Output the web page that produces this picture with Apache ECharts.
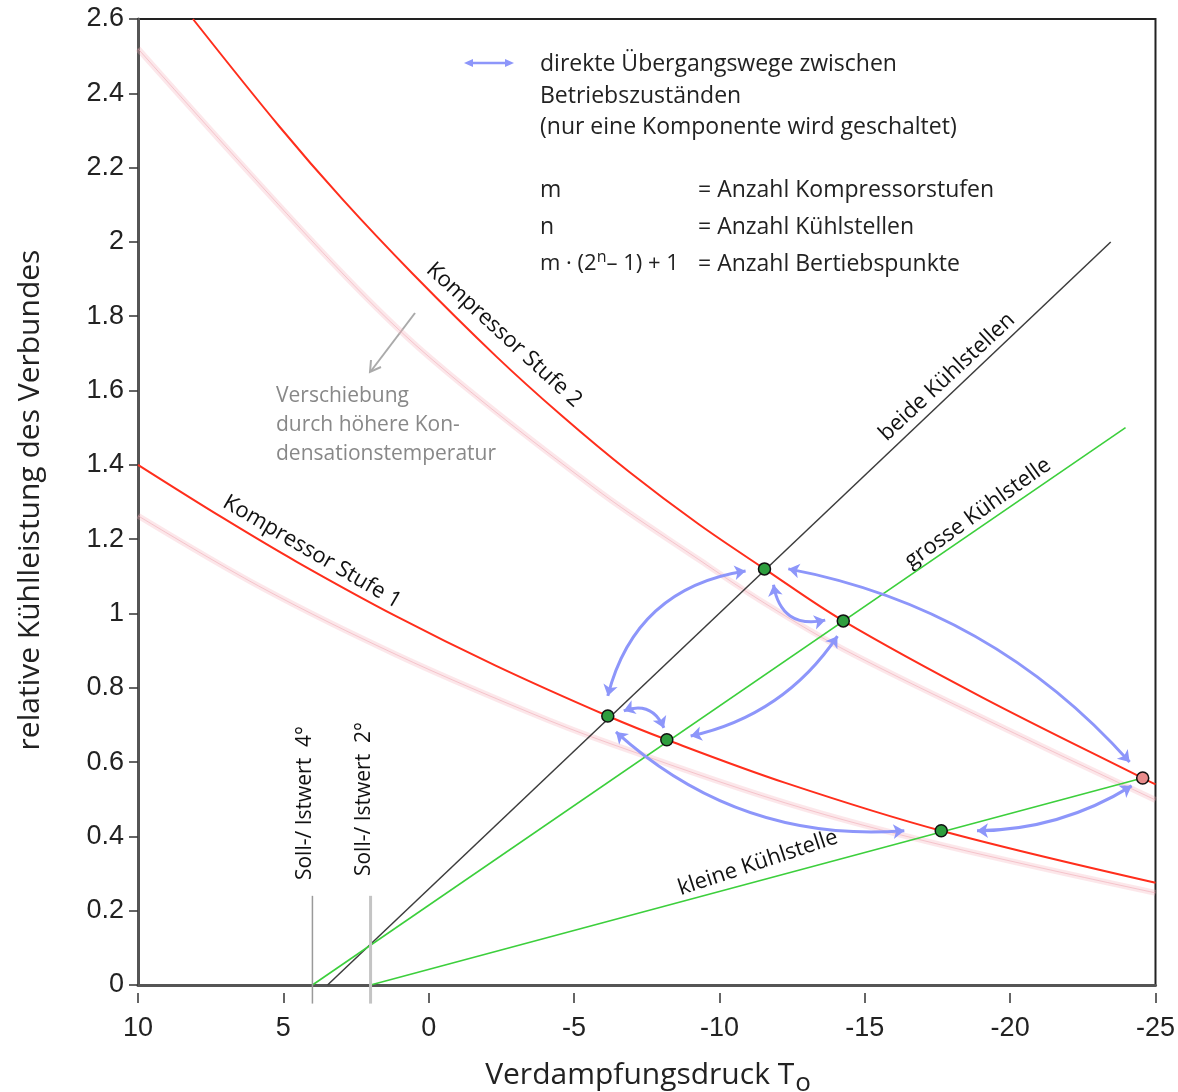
<!DOCTYPE html>
<html>
<head>
<meta charset="utf-8">
<script src="https://cdn.jsdelivr.net/npm/echarts@6/dist/echarts.min.js"></script>
<style>
  html, body { margin: 0; padding: 0; background: #fff; }
  #chart { width: 1178px; height: 1092px; }
</style>
</head>
<body>
<div id="chart"></div>
<script>
// Verdampfungstemperatur (x) gegen relative Kühlleistung (y)
const stufe2 = [[8.11, 2.60], [5.13, 2.31], [2.97, 2.115], [0.56, 1.915], [-2.32, 1.692], [-4.58, 1.532], [-6.88, 1.382], [-9.29, 1.240], [-11.55, 1.12], [-14.26, 0.98], [-19.07, 0.773], [-24.56, 0.557], [-25, 0.54]];
const stufe2Verschoben = [[10, 2.52], [3.41, 1.952], [-0.02, 1.690], [-5.75, 1.335], [-9.29, 1.145], [-11.55, 1.028], [-14.26, 0.904], [-19.58, 0.699], [-25, 0.498]];
const stufe1 = [[10, 1.40], [7.08, 1.257], [4.54, 1.139], [1.11, 0.992], [-2.32, 0.859], [-6.16, 0.724], [-8.19, 0.66], [-12.27, 0.544], [-17.63, 0.415], [-25, 0.275]];
const stufe1Verschoben = [[10, 1.263], [5.71, 1.068], [1.11, 0.889], [-3.45, 0.734], [-6.2, 0.651], [-12.27, 0.49], [-17.63, 0.377], [-25, 0.248]];
const beideKuehlstellen = [[3.48, 0], [-23.46, 2.0]];
const grosseKuehlstelle = [[4, 0], [-23.97, 1.5]];
const kleineKuehlstelle = [[2, 0], [-24.56, 0.557]];
const sollwerte = [4, 2];
const sollLinieBereich = [-0.05, 0.24];
const betriebspunkte = [[-6.16, 0.724], [-11.55, 1.12], [-14.26, 0.98], [-8.19, 0.66], [-17.63, 0.415]];
const betriebspunktMax = [[-24.56, 0.557]];
// Übergangswege: Start, Ende
const uebergaenge = [
  [[-6.16, 0.778], [-10.90, 1.114]],
  [[-11.86, 1.077], [-13.64, 0.982]],
  [[-12.37, 1.12], [-24.11, 0.60]],
  [[-14.06, 0.939], [-9.01, 0.67]],
  [[-6.71, 0.738], [-8.09, 0.692]],
  [[-6.44, 0.681], [-16.36, 0.415]],
  [[-18.86, 0.415], [-24.18, 0.536]]
];
const kruemmung = [0.33, -0.52, 0.17, 0.2, 0.47, -0.215, -0.14];
const xMin = -25, xMax = 10, xStep = 5;
const yMin = 0, yMax = 2.6, yStep = 0.2;

const ROT = '#ff2e1c';
const GRUEN = '#3ccf3c';
const BLAU = '#8d96fa';
const TXT = "'Open Sans', 'Noto Sans', sans-serif";

const chart = echarts.init(document.getElementById('chart'));

function kurve(data, color, width, z) {
  return { type: 'line', data: data, smooth: 0.35, showSymbol: false, silent: true, z: z,
    lineStyle: { color: color, width: width } };
}
function gerade(data, color, width, z) {
  return { type: 'line', data: data, showSymbol: false, silent: true, z: z,
    lineStyle: { color: color, width: width } };
}

const series = [
  kurve(stufe2Verschoben, 'rgba(245,175,185,0.3)', 6, 1),
  kurve(stufe2Verschoben, 'rgba(238,160,172,0.5)', 1, 1),
  kurve(stufe1Verschoben, 'rgba(245,175,185,0.3)', 6, 1),
  kurve(stufe1Verschoben, 'rgba(238,160,172,0.5)', 1, 1),
  gerade(beideKuehlstellen, '#3c3c3c', 1.5, 2),
  gerade(grosseKuehlstelle, GRUEN, 1.6, 2),
  gerade(kleineKuehlstelle, GRUEN, 1.6, 2),
  kurve(stufe2, ROT, 2, 3),
  kurve(stufe1, ROT, 2, 3),
  {
    type: 'line', clip: false, showSymbol: false, silent: true, z: 2,
    data: sollLinieBereich.map(y => [sollwerte[0], y]),
    lineStyle: { color: '#9a9a9a', width: 1.5 }
  },
  {
    type: 'line', clip: false, showSymbol: false, silent: true, z: 2,
    data: sollLinieBereich.map(y => [sollwerte[1], y]),
    lineStyle: { color: '#c4c4c4', width: 3 }
  },
  {
    type: 'lines', coordinateSystem: 'cartesian2d', z: 4, silent: true,
    symbol: ['arrow', 'arrow'], symbolSize: 11,
    lineStyle: { color: BLAU, width: 3, opacity: 1 },
    data: uebergaenge.map((u, i) => ({ coords: u, lineStyle: { curveness: kruemmung[i] } }))
  },
  {
    type: 'scatter', data: betriebspunkte, symbolSize: 12, z: 5, silent: true,
    itemStyle: { color: '#2e9e3e', borderColor: '#111', borderWidth: 1.5, opacity: 1 }
  },
  {
    type: 'scatter', data: betriebspunktMax, symbolSize: 12, z: 5, silent: true,
    itemStyle: { color: '#e88c8c', borderColor: '#111', borderWidth: 1.5, opacity: 1 }
  }
];

function zeile(x, y, text, size, color) {
  return { type: 'text', x: x, y: y, style: { text: text, font: size + 'px ' + TXT, fill: color || '#222', verticalAlign: 'middle' } };
}
function schraeg(x, y, rot, text, size) {
  return { type: 'text', x: x, y: y, rotation: rot,
    style: { text: text, font: size + 'px ' + TXT, fill: '#111', align: 'center', verticalAlign: 'middle' } };
}

const graphic = [
  // Achsentitel
  { type: 'text', x: 30, y: 500, rotation: Math.PI / 2,
    style: { text: 'relative Kühlleistung des Verbundes', font: '30px ' + TXT, fill: '#222', align: 'center', verticalAlign: 'middle' } },
  { type: 'text', x: 648, y: 1075,
    style: { text: '{a|Verdampfungsdruck T}{s|o}', align: 'center', verticalAlign: 'middle',
      rich: { a: { font: '30px ' + TXT, fill: '#222', lineHeight: 32 },
              s: { font: '26px ' + TXT, fill: '#222', padding: [18, 0, 0, 1], verticalAlign: 'bottom' } } } },
  // Legende
  { type: 'line', shape: { x1: 470, y1: 63, x2: 508, y2: 63 }, style: { stroke: BLAU, lineWidth: 2.5 } },
  { type: 'polygon', shape: { points: [[464, 63], [473, 59], [473, 67]] }, style: { fill: BLAU } },
  { type: 'polygon', shape: { points: [[514, 63], [505, 59], [505, 67]] }, style: { fill: BLAU } },
  zeile(540, 64, 'direkte Übergangswege zwischen', 23),
  zeile(540, 96, 'Betriebszuständen', 23),
  zeile(540, 127, '(nur eine Komponente wird geschaltet)', 23),
  zeile(540, 190, 'm', 23),
  zeile(540, 227, 'n', 23),
  { type: 'text', x: 540, y: 264,
    style: { text: '{a|m · (2}{s|n}{a|– 1) + 1}', verticalAlign: 'middle',
      rich: { a: { font: '22px ' + TXT, fill: '#222', lineHeight: 30 },
              s: { font: '16px ' + TXT, fill: '#222', lineHeight: 16, verticalAlign: 'top' } } } },
  zeile(698, 190, '= Anzahl Kompressorstufen', 23),
  zeile(698, 227, '= Anzahl Kühlstellen', 23),
  zeile(698, 264, '= Anzahl Bertiebspunkte', 23),
  // Kurvenbeschriftungen
  schraeg(504, 335, -0.743, 'Kompressor Stufe 2', 22),
  schraeg(312, 552, -0.53, 'Kompressor Stufe 1', 22),
  schraeg(947, 377, 0.75, 'beide Kühlstellen', 22),
  schraeg(978, 513, 0.62, 'grosse Kühlstelle', 22),
  schraeg(758, 863, 0.32, 'kleine Kühlstelle', 22),
  { type: 'text', x: 305, y: 803, rotation: Math.PI / 2,
    style: { text: 'Soll-/ Istwert  4°', font: '21px ' + TXT, fill: '#111', align: 'center', verticalAlign: 'middle' } },
  { type: 'text', x: 364, y: 799, rotation: Math.PI / 2,
    style: { text: 'Soll-/ Istwert  2°', font: '21px ' + TXT, fill: '#111', align: 'center', verticalAlign: 'middle' } },
  // Verschiebung
  { type: 'line', shape: { x1: 415, y1: 313, x2: 371, y2: 371 }, style: { stroke: '#aaa', lineWidth: 2 } },
  { type: 'polyline', shape: { points: [[371, 360], [370, 372], [381, 367]] }, style: { stroke: '#aaa', lineWidth: 2, fill: null } },
  zeile(276, 396, 'Verschiebung', 21, '#888'),
  zeile(276, 425, 'durch höhere Kon-', 21, '#888'),
  zeile(276, 454, 'densationstemperatur', 21, '#888')
];

chart.setOption({
  animation: false,
  backgroundColor: '#fff',
  grid: { left: 138, right: 20, top: 19, bottom: 107, show: true, borderColor: '#222', borderWidth: 2 },
  xAxis: [
    { type: 'value', inverse: true, min: xMin, max: xMax, interval: xStep, position: 'bottom',
      splitLine: { show: false }, axisTick: { show: false }, axisLabel: { show: false },
      axisLine: { show: true, onZero: false, lineStyle: { color: '#555', width: 3 } } },
    { type: 'value', inverse: true, min: xMin, max: xMax, interval: xStep, position: 'bottom', offset: 8,
      splitLine: { show: false }, axisLine: { show: false, onZero: false },
      axisTick: { show: true, length: 10, lineStyle: { color: '#333', width: 1.5 } },
      axisLabel: { fontFamily: 'Liberation Sans', fontSize: 27, color: '#222', margin: 22 } }
  ],
  yAxis: {
    type: 'value', min: yMin, max: yMax, interval: yStep,
    splitLine: { show: false },
    axisLine: { show: true, onZero: false, lineStyle: { color: '#555', width: 3 } },
    axisTick: { show: true, length: 9, lineStyle: { color: '#333', width: 1.5 } },
    axisLabel: { fontFamily: 'Liberation Sans', fontSize: 27, color: '#222', margin: 14 }
  },
  series: series,
  graphic: graphic
});
</script>
</body>
</html>
